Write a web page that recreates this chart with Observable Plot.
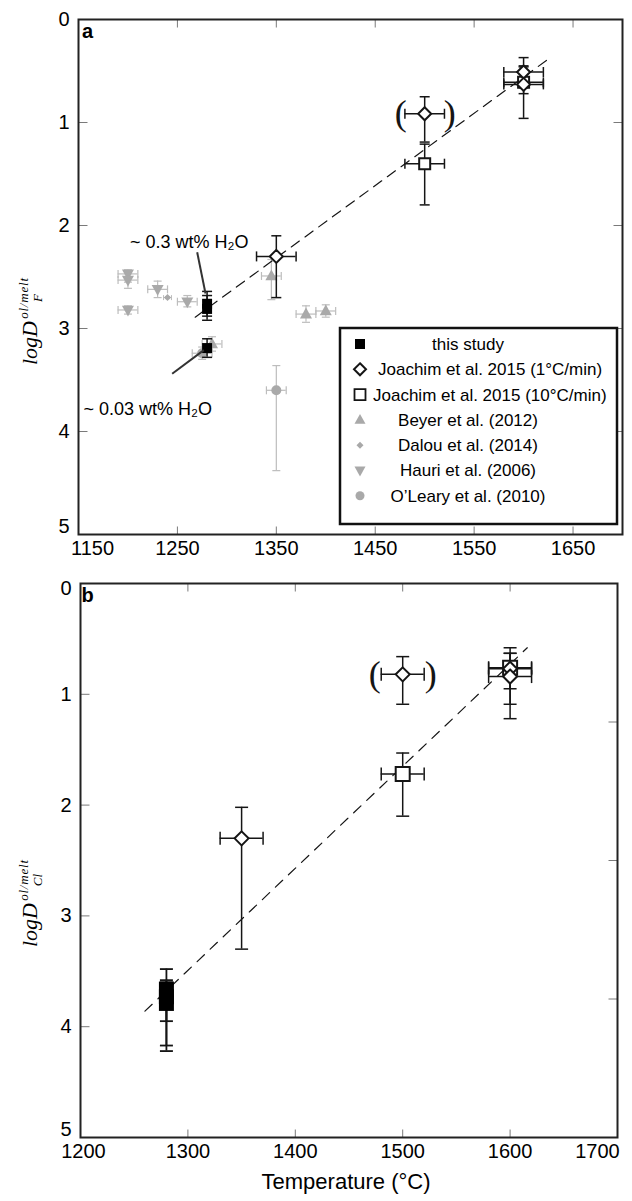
<!DOCTYPE html>
<html><head><meta charset="utf-8">
<script src="https://cdn.jsdelivr.net/npm/d3@7"></script>
<script src="https://cdn.jsdelivr.net/npm/@observablehq/plot@0.6"></script>
<style>
body{margin:0;background:#fff;}
#chart svg{display:block;}
</style></head><body><div id="chart"></div>
<script>
// ---------------- Panel a : log D_F (ol/melt) ----------------
const fThisT  = [1280, 1280, 1280];
const fThisV  = [2.76, 2.81, 3.19];
const fThisLo = [2.64, 2.68, 3.10];
const fThisHi = [2.88, 2.92, 3.28];

const fJ1T  = [1500, 1350, 1600, 1600];
const fJ1V  = [0.915, 2.30, 0.51, 0.63];
const fJ1Lo = [0.75, 2.10, 0.37, 0.46];
const fJ1Hi = [1.19, 2.70, 0.66, 0.96];
const fJ1Err = [20, 20, 20, 20];

const fJ10T  = [1500, 1600];
const fJ10V  = [1.40, 0.61];
const fJ10Lo = [1.21, 0.45];
const fJ10Hi = [1.80, 0.72];
const fJ10Err = [20, 20];

const beyerT  = [1345, 1380, 1400, 1285];
const beyerV  = [2.49, 2.86, 2.83, 3.15];
const beyerLo = [2.33, 2.78, 2.77, 3.08];
const beyerHi = [2.72, 2.94, 2.89, 3.22];
const beyerErr = [10, 10, 10, 10];

const dalouT  = [1240];
const dalouV  = [2.70];
const dalouLo = [2.69];
const dalouHi = [2.71];
const dalouErr = [4];

const hauriT  = [1200, 1200, 1200, 1230, 1260];
const hauriV  = [2.47, 2.53, 2.82, 2.62, 2.74];
const hauriLo = [2.43, 2.45, 2.78, 2.54, 2.68];
const hauriHi = [2.55, 2.61, 2.86, 2.70, 2.79];
const hauriErr = [10, 10, 10, 10, 10];

const olearyT  = [1275, 1350];
const olearyV  = [3.24, 3.60];
const olearyLo = [3.18, 3.36];
const olearyHi = [3.30, 4.38];
const olearyErr = [10, 10];

const fFitT = [1268, 1627];
const fFitV = [2.89, 0.37];

// ---------------- Panel b : log D_Cl (ol/melt) ----------------
const clThisT  = [1280, 1280, 1280];
const clThisV  = [3.66, 3.73, 3.79];
const clThisLo = [3.48, 3.58, 3.60];
const clThisHi = [3.95, 4.17, 4.22];

const clJ1T  = [1500, 1350, 1600, 1600];
const clJ1V  = [0.82, 2.30, 0.77, 0.84];
const clJ1Lo = [0.66, 2.02, 0.58, 0.63];
const clJ1Hi = [1.09, 3.30, 1.09, 1.22];
const clJ1Err = [20, 20, 20, 20];

const clJ10T  = [1500, 1600];
const clJ10V  = [1.72, 0.76];
const clJ10Lo = [1.53, 0.63];
const clJ10Hi = [2.10, 0.95];
const clJ10Err = [20, 20];

const clFitT = [1260, 1616];
const clFitV = [3.86, 0.58];

// ---------------- ticks & labels ----------------
const xTicksA = [1150, 1250, 1350, 1450, 1550, 1650];
const xTicksB = [1200, 1300, 1400, 1500, 1600, 1700];
const yTicks  = [0, 1, 2, 3, 4, 5];
const yRightTicksB = [1.25, 2.5, 3.75];
const legendLabels = ["this study", "Joachim et al. 2015 (1°C/min)", "Joachim et al. 2015 (10°C/min)",
  "Beyer et al. (2012)", "Dalou et al. (2014)", "Hauri et al. (2006)", "O\u2019Leary et al. (2010)"];
const annotLabels = ["~ 0.3 wt% H\u2082O", "~ 0.03 wt% H\u2082O"];
const xTitle = "Temperature (°C)";

// annotation placement (data coordinates)
const annotA = [
  {label: annotLabels[0], t: 1262, v: 2.165, t1: 1270, v1: 2.26, t2: 1278.4, v2: 2.66},
  {label: annotLabels[1], t: 1220, v: 3.78,  t1: 1244.7, v1: 3.44, t2: 1276.7, v2: 3.21}
];

// ---------------- helpers ----------------
const ser = (T, V, Lo, Hi, E) => T.map((t, i) => ({t, v: V[i], lo: Lo[i], hi: Hi[i], e: E ? E[i] : 0}));
const S = {
  rect: (w, h) => ({draw(c) { c.rect(-w / 2, -h / 2, w, h); }}),
  diamond: (s) => ({draw(c) { const h = s / 2; c.moveTo(0, -h); c.lineTo(h, 0); c.lineTo(0, h); c.lineTo(-h, 0); c.closePath(); }}),
  triUp: (s) => ({draw(c) { const h = s * 0.9; c.moveTo(0, -h * 0.6); c.lineTo(s / 2, h * 0.4); c.lineTo(-s / 2, h * 0.4); c.closePath(); }}),
  triDown: (s) => ({draw(c) { const h = s * 0.9; c.moveTo(0, h * 0.6); c.lineTo(s / 2, -h * 0.4); c.lineTo(-s / 2, -h * 0.4); c.closePath(); }}),
  circle: (r) => ({draw(c) { c.moveTo(r, 0); c.arc(0, 0, r, 0, 2 * Math.PI); }}),
  hcap: (w) => ({draw(c) { c.moveTo(-w / 2, 0); c.lineTo(w / 2, 0); }}),
  vcap: (h) => ({draw(c) { c.moveTo(0, -h / 2); c.lineTo(0, h / 2); }}),
  seg: (dx, dy) => ({draw(c) { c.moveTo(0, 0); c.lineTo(dx, dy); }})
};

function errMarks(rows, color, cap, sw) {
  const xr = rows.filter(d => d.e > 0);
  const yr = rows.filter(d => d.hi > d.lo);
  const o = {stroke: color, strokeWidth: sw, fill: "none"};
  return [
    Plot.ruleY(xr, {y: "v", x1: d => d.t - d.e, x2: d => d.t + d.e, ...o}),
    Plot.dot(xr, {x: d => d.t - d.e, y: "v", symbol: S.vcap(cap), ...o}),
    Plot.dot(xr, {x: d => d.t + d.e, y: "v", symbol: S.vcap(cap), ...o}),
    Plot.ruleX(yr, {x: "t", y1: "lo", y2: "hi", ...o}),
    Plot.dot(yr, {x: "t", y: "lo", symbol: S.hcap(cap), ...o}),
    Plot.dot(yr, {x: "t", y: "hi", symbol: S.hcap(cap), ...o})
  ];
}

function frameTicks(xt, yt, yRight, x0, x1) {
  const st = {stroke: "#7a7a7a", strokeWidth: 1, fill: "none"};
  return [
    Plot.dot(xt, {x: d => d, y: () => 5, symbol: S.seg(0, -8), ...st}),
    Plot.dot(xt, {x: d => d, y: () => 0, symbol: S.seg(0, 8), ...st}),
    Plot.dot(yt, {x: () => x0, y: d => d, symbol: S.seg(9, 0), ...st}),
    Plot.dot(yRight, {x: () => x1, y: d => d, symbol: S.seg(-9, 0), ...st})
  ];
}

const FONT = "'Liberation Sans', Arial, Helvetica, sans-serif";
const SERIF = "'Liberation Serif', 'Times New Roman', serif";
const BLACK = "#151515";
const GRAY = "#a9a9a9";
const GRAY_EB = "#bdbdbd";
const fmt = d => String(d);
const ax = {tickSize: 0, fontSize: 20, label: null, tickFormat: fmt};

// ---------------- Panel a ----------------
const fThis = ser(fThisT, fThisV, fThisLo, fThisHi);
const fJ1 = ser(fJ1T, fJ1V, fJ1Lo, fJ1Hi, fJ1Err);
const fJ10 = ser(fJ10T, fJ10V, fJ10Lo, fJ10Hi, fJ10Err);
const beyer = ser(beyerT, beyerV, beyerLo, beyerHi, beyerErr);
const dalou = ser(dalouT, dalouV, dalouLo, dalouHi, dalouErr);
const hauri = ser(hauriT, hauriV, hauriLo, hauriHi, hauriErr);
const oleary = ser(olearyT, olearyV, olearyLo, olearyHi, olearyErr);
const fFit = fFitT.map((t, i) => ({t, v: fFitV[i]}));

const plotA = Plot.plot({
  width: 632, height: 570,
  marginLeft: 78, marginRight: 10, marginTop: 19, marginBottom: 36,
  x: {domain: [1150, 1700]},
  y: {domain: [0, 5], reverse: true},
  style: {fontFamily: FONT, fontSize: "20px", color: "#000", background: "#fff", overflow: "visible"},
  marks: [
    ...frameTicks(xTicksA.slice(1), [1, 2, 3, 4], [1, 2, 3, 4], 1150, 1700),
    // literature data (gray)
    ...errMarks(hauri, GRAY_EB, 8, 1.2),
    ...errMarks(beyer, GRAY_EB, 8, 1.2),
    ...errMarks(oleary, GRAY_EB, 8, 1.2),
    ...errMarks(dalou, GRAY_EB, 5, 1),
    Plot.dot(oleary, {x: "t", y: "v", symbol: S.circle(5), fill: GRAY, stroke: "none"}),
    Plot.dot(hauri, {x: "t", y: "v", symbol: S.triDown(12), fill: GRAY, stroke: "none"}),
    Plot.dot(beyer, {x: "t", y: "v", symbol: S.triUp(12), fill: GRAY, stroke: "none"}),
    Plot.dot(dalou, {x: "t", y: "v", symbol: S.diamond(7), fill: GRAY, stroke: "none"}),
    // fit line
    Plot.line(fFit, {x: "t", y: "v", stroke: BLACK, strokeWidth: 1.2, strokeDasharray: "10,7"}),
    // Joachim et al. 2015
    ...errMarks(fJ10, BLACK, 10, 1.5),
    ...errMarks(fJ1, BLACK, 10, 1.5),
    Plot.dot(fJ10, {x: "t", y: "v", symbol: S.rect(11, 11), fill: "#fff", stroke: BLACK, strokeWidth: 2}),
    Plot.dot(fJ1, {x: "t", y: "v", symbol: S.diamond(13), fill: "#fff", stroke: BLACK, strokeWidth: 2}),
    Plot.text([fJ1[0]], {x: "t", y: "v", text: () => "(", dx: -24, fontSize: 36, fontFamily: SERIF, fill: BLACK}),
    Plot.text([fJ1[0]], {x: "t", y: "v", text: () => ")", dx: 25, fontSize: 36, fontFamily: SERIF, fill: BLACK}),
    // this study
    ...errMarks(fThis, BLACK, 10, 1.5),
    Plot.dot(fThis, {x: "t", y: "v", symbol: S.rect(10, 10), fill: "#000", stroke: "none"}),
    // annotations
    Plot.link(annotA, {x1: "t1", y1: "v1", x2: "t2", y2: "v2", stroke: "#333", strokeWidth: 2}),
    Plot.text(annotA, {x: "t", y: "v", text: "label", fontSize: 18, fill: "#000"}),
    // frame & axes
    Plot.frame({stroke: "#222", strokeWidth: 2}),
    Plot.axisX(xTicksA.slice(1), {...ax, tickPadding: 6}),
    Plot.axisX([xTicksA[0]], {...ax, tickPadding: 6, dx: 14}),
    Plot.axisY(yTicks.slice(0, 5), {...ax, tickPadding: 9}),
    Plot.axisY([yTicks[5]], {...ax, tickPadding: 9, dy: -8}),
    Plot.text(["a"], {frameAnchor: "top-left", textAnchor: "middle", lineAnchor: "middle", dx: 9, dy: 12, fontSize: 20, fontWeight: "bold", fill: "#000"})
  ]
});

// ---------------- Panel b ----------------
const clThis = ser(clThisT, clThisV, clThisLo, clThisHi);
const clJ1 = ser(clJ1T, clJ1V, clJ1Lo, clJ1Hi, clJ1Err);
const clJ10 = ser(clJ10T, clJ10V, clJ10Lo, clJ10Hi, clJ10Err);
const clFit = clFitT.map((t, i) => ({t, v: clFitV[i]}));

const plotB = Plot.plot({
  width: 632, height: 631,
  marginLeft: 80, marginRight: 15, marginTop: 13, marginBottom: 64,
  x: {domain: [1200, 1700]},
  y: {domain: [0, 5], reverse: true},
  style: {fontFamily: FONT, fontSize: "20px", color: "#000", background: "#fff", overflow: "visible"},
  marks: [
    ...frameTicks(xTicksB.slice(1, 5), [1, 2, 3, 4], yRightTicksB, 1200, 1700),
    Plot.line(clFit, {x: "t", y: "v", stroke: BLACK, strokeWidth: 1.2, strokeDasharray: "10,8"}),
    ...errMarks(clJ10, BLACK, 13, 1.5),
    ...errMarks(clJ1, BLACK, 13, 1.5),
    Plot.dot(clJ10, {x: "t", y: "v", symbol: S.rect(14, 14), fill: "#fff", stroke: BLACK, strokeWidth: 2}),
    Plot.dot(clJ1, {x: "t", y: "v", symbol: S.diamond(14), fill: "#fff", stroke: BLACK, strokeWidth: 2}),
    Plot.text([clJ1[0]], {x: "t", y: "v", text: () => "(", dx: -28, fontSize: 36, fontFamily: SERIF, fill: BLACK}),
    Plot.text([clJ1[0]], {x: "t", y: "v", text: () => ")", dx: 28, fontSize: 36, fontFamily: SERIF, fill: BLACK}),
    ...errMarks(clThis, BLACK, 13, 1.8),
    Plot.dot(clThis, {x: "t", y: "v", symbol: S.rect(15, 15), fill: "#000", stroke: "none"}),
    Plot.frame({stroke: "#222", strokeWidth: 2}),
    Plot.axisX(xTicksB.slice(1, 5), {...ax, tickPadding: 6}),
    Plot.axisX([xTicksB[0]], {...ax, tickPadding: 6, dx: 3}),
    Plot.axisX([xTicksB[5]], {...ax, tickPadding: 6, dx: -20}),
    Plot.axisY([yTicks[0]], {...ax, tickPadding: 9, dy: 5}),
    Plot.axisY(yTicks.slice(1, 5), {...ax, tickPadding: 9}),
    Plot.axisY([yTicks[5]], {...ax, tickPadding: 9, dy: -8}),
    Plot.text([xTitle], {frameAnchor: "bottom", dy: 51, dx: -3, fontSize: 22, fill: "#000"}),
    Plot.text(["b"], {frameAnchor: "top-left", textAnchor: "middle", lineAnchor: "middle", dx: 7, dy: 12, fontSize: 20, fontWeight: "bold", fill: "#000"})
  ]
});

const chart = document.getElementById("chart");
chart.append(plotA, plotB);

// ---------------- y-axis labels (logD with super/subscripts) ----------------
function yLabel(svg, x, y, sub) {
  const g = d3.select(svg).append("g")
    .attr("transform", `translate(${x},${y}) rotate(-90)`)
    .attr("font-family", SERIF)
    .attr("font-style", "italic").attr("fill", "#000");
  const main = g.append("text").attr("x", 0).attr("y", 0).attr("font-size", 22).text("logD");
  const w = main.node().getComputedTextLength();
  g.append("text").attr("x", w + 1).attr("y", -9).attr("font-size", 13)
    .attr("letter-spacing", 0.8).text("ol/melt");
  g.append("text").attr("x", w + 1).attr("y", 5).attr("font-size", 13).text(sub);
}
yLabel(plotA, 37, 343, "F");
yLabel(plotB, 37, 925 - 570, "Cl");

// ---------------- legend (panel a) ----------------
(function legend() {
  const svg = d3.select(plotA);
  const g = svg.append("g").attr("font-family", FONT).attr("font-size", 17);
  g.append("rect").attr("x", 340).attr("y", 328).attr("width", 277).attr("height", 196)
    .attr("fill", "#fff").attr("stroke", "#111").attr("stroke-width", 2.5);
  const rowY = i => 344 + i * 25.3;
  const sx = 360;
  const path = (symObj) => { const p = d3.path(); symObj.draw(p); return p.toString(); };
  const syms = [
    {d: path(S.rect(10, 10)), fill: "#000", stroke: "none"},
    {d: path(S.diamond(12)), fill: "#fff", stroke: BLACK, sw: 2},
    {d: path(S.rect(11, 11)), fill: "#fff", stroke: BLACK, sw: 1.8},
    {d: path(S.triUp(11)), fill: GRAY, stroke: "none"},
    {d: path(S.diamond(7)), fill: GRAY, stroke: "none"},
    {d: path(S.triDown(11)), fill: GRAY, stroke: "none"},
    {d: path(S.circle(4.5)), fill: GRAY, stroke: "none"}
  ];
  legendLabels.forEach((lab, i) => {
    const s = syms[i];
    g.append("path").attr("d", s.d).attr("transform", `translate(${sx},${rowY(i)})`)
      .attr("fill", s.fill).attr("stroke", s.stroke).attr("stroke-width", s.sw || 0);
    const t = g.append("text").attr("y", rowY(i)).attr("dy", "0.35em").attr("fill", "#000").text(lab);
    if (i === 1) t.attr("x", 378).attr("text-anchor", "start");
    else if (i === 2) t.attr("x", 373).attr("text-anchor", "start");
    else t.attr("x", 468).attr("text-anchor", "middle");
  });
})();
</script></body></html>
